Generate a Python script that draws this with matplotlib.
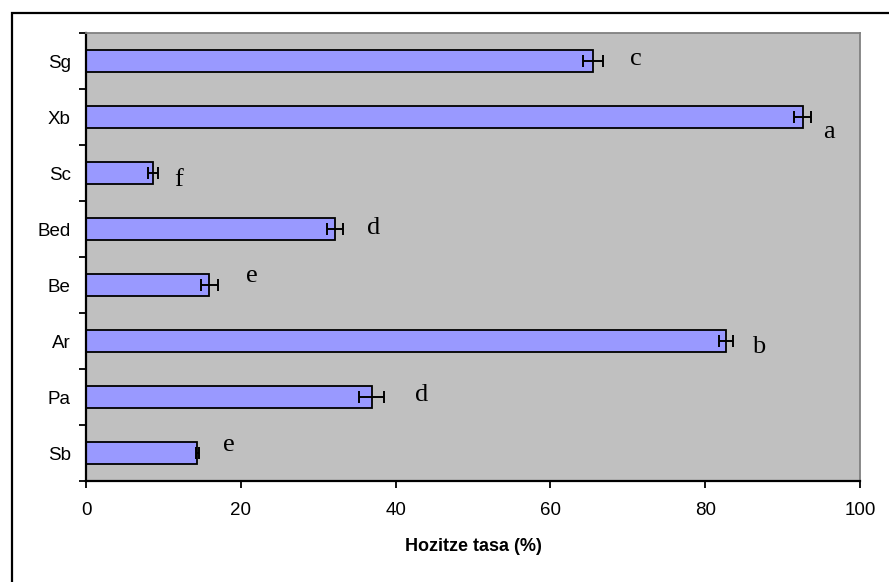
import matplotlib
matplotlib.use("Agg")
from matplotlib import pyplot as plt
from matplotlib.patches import Rectangle

# data, top to bottom as in the chart
species = ["Sg", "Xb", "Sc", "Bed", "Be", "Ar", "Pa", "Sb"]
rate = [65.5, 92.6, 8.7, 32.2, 15.9, 82.7, 36.9, 14.4]
err = [1.35, 1.1, 0.65, 1.0, 1.1, 0.9, 1.6, 0.25]
letters = ["c", "a", "f", "d", "e", "b", "d", "e"]
letter_x = [71.1, 96.0, 12.0, 37.1, 21.4, 86.9, 43.4, 18.5]
letter_dy = [0.07, 0.37, 0.23, 0.09, -0.06, 0.22, 0.08, -0.04]


def main():
    fig = plt.figure(figsize=(8.89, 5.82), dpi=100)
    fig.patches.append(Rectangle((12 / 889, -0.1), 1.2, 1.1 - 13 / 582,
                                 transform=fig.transFigure, fill=False,
                                 edgecolor="black", linewidth=1.6))
    ax = fig.add_axes([86 / 889, 1 - 481 / 582, (860 - 86) / 889, (481 - 33) / 582])
    ax.set_facecolor("#c0c0c0")

    ypos = list(range(len(species)))
    ax.barh(ypos, rate, height=0.4, color="#9999ff", edgecolor="black",
            linewidth=1.3, zorder=2)
    ax.errorbar(rate, ypos, xerr=err, fmt="none", ecolor="black",
                elinewidth=1.4, capsize=4, capthick=1.4, zorder=3)

    for i in range(len(species)):
        ax.text(letter_x[i], ypos[i] + letter_dy[i], letters[i],
                family="Liberation Serif", fontsize=19,
                ha="center", va="baseline", zorder=4)

    ax.set_xlim(0, 100)
    ax.set_ylim(len(species) - 0.5, -0.5)
    ax.set_xticks(range(0, 101, 20))
    ax.set_yticks(ypos)
    ax.set_yticklabels(species)
    ax.set_yticks([i - 0.5 for i in range(len(species) + 1)], minor=True)
    ax.tick_params(axis="y", which="major", length=0, pad=11)
    ax.tick_params(axis="y", which="minor", length=5, width=1.3, direction="out")
    ax.tick_params(axis="x", length=5, width=1.3, direction="out", pad=10)
    for lab in ax.get_xticklabels() + ax.get_yticklabels():
        lab.set_family("Liberation Sans")
        lab.set_fontsize(13.5)

    ax.spines["left"].set_linewidth(1.6)
    ax.spines["bottom"].set_linewidth(1.6)
    ax.spines["top"].set_color("#808080")
    ax.spines["right"].set_color("#808080")
    ax.spines["top"].set_linewidth(1.3)
    ax.spines["right"].set_linewidth(1.3)

    ax.set_xlabel("Hozitze tasa (%)", family="Liberation Sans", fontsize=13,
                  fontweight="bold", labelpad=14)

    fig.savefig("out.png", dpi=100)


if __name__ == "__main__":
    main()
